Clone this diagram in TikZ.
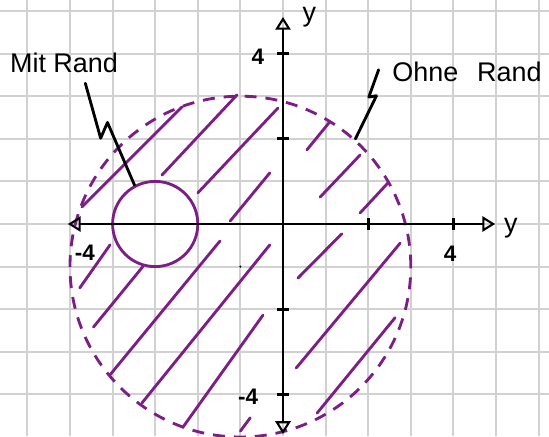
\documentclass[tikz,border=0pt]{standalone}
\usepackage{fontspec}
\setmainfont{Liberation Sans}
\usetikzlibrary{arrows.meta, positioning}
\definecolor{lila}{RGB}{125,30,135}
\tikzset{
  gitter/.style={draw=black!18, line width=1.3pt},
  achse/.style={line width=1.9pt, {Triangle[open, length=3mm, width=3.6mm, line width=1.4pt]}-{Triangle[open, length=3mm, width=3.6mm, line width=1.4pt]}},
  strich/.style={line width=1.9pt},
  schraffur/.style={draw=lila, line width=1.9pt, line cap=round},
  rand/.style={circle, draw=lila, line width=1.9pt, inner sep=0pt},
  offen/.style={rand, dash pattern=on 8pt off 6pt},
  beschr/.style={font=\fontsize{18}{20}\selectfont},
  zahl/.style={font=\fontsize{15}{17}\selectfont\bfseries},
  blitz/.style={line width=1.9pt, line join=round, line cap=round},
}
\begin{document}
\begin{tikzpicture}
  \useasboundingbox (-6.643,-4.977) rectangle (6.244,5.258);
  \draw[gitter] (-6.643,-4.977) grid (6.244,5.258);
  % schraffierte Flaeche
  \foreach \xa/\ya/\xb/\yb in {-4.72/0.40/-2.37/2.75, -2.84/1.15/-1.08/3.03, -2.0/0.73/-0.12/2.72,
                               -1.24/0.07/-0.31/1.2, 0.56/1.74/1.1/2.4, 0.87/0.63/1.81/1.62,
                               1.81/0.26/2.46/0.96, -4.77/-1.5/-4.06/-0.49, -4.45/-2.42/-3.29/-1.0,
                               -4.06/-3.54/-1.48/-0.4, -3.31/-4.2/-0.31/-0.49, -2.35/-4.77/-0.47/-2.14,
                               -1.0/-4.86/-0.77/-4.55, 0.35/-1.27/1.38/-0.23, 0.31/-3.38/2.75/-0.45,
                               0.8/-4.44/2.63/-2.2}
    \draw[schraffur] (\xa,\ya) -- (\xb,\yb);
  \node[offen, minimum size=8cm] (gross) at (-1,-1) {};
  \node[rand, minimum size=2cm] (klein) at (-3,0) {};
  \fill (-1,-1) circle (0.8pt);
  % Achsen
  \draw[achse] (-5.05,0) -- (4.98,0);
  \draw[achse] (0,-4.93) -- (0,4.86);
  \foreach \t in {2,4} \draw[strich] (\t,0.13) -- (\t,-0.13);
  \foreach \t in {-4,-2,2,4} \draw[strich] (-0.13,\t) -- (0.13,\t);
  \node[zahl] (xvier) at (3.92,-0.7) {4};
  \node[zahl] (xmvier) at (-4.65,-0.68) {-4};
  \node[zahl] (yvier) at (-0.59,3.92) {4};
  \node[zahl] (ymvier) at (-0.82,-4.06) {-4};
  \node[beschr] (ylbl) at (0.62,4.85) {y};
  \node[beschr] (xlbl) at (5.35,-0.1) {y};
  % Beschriftungen
  \node[beschr] (mit) at (-5.14,3.78) {Mit Rand};
  \draw[blitz] ([xshift=0.5cm,yshift=-0.12cm]mit.south) -- ++(0.36,-1.29) -- ++(0.16,0.37) -- (klein.118);
  \node[beschr] (ohne) at (4.32,3.57) {Ohne\hspace{0.7em}Rand};
  \draw[blitz] ([xshift=-0.2cm,yshift=0.05cm]ohne.west) -- ++(-0.23,-0.64) -- ++(0.18,0.03) -- (gross.48);
\end{tikzpicture}
\end{document}
